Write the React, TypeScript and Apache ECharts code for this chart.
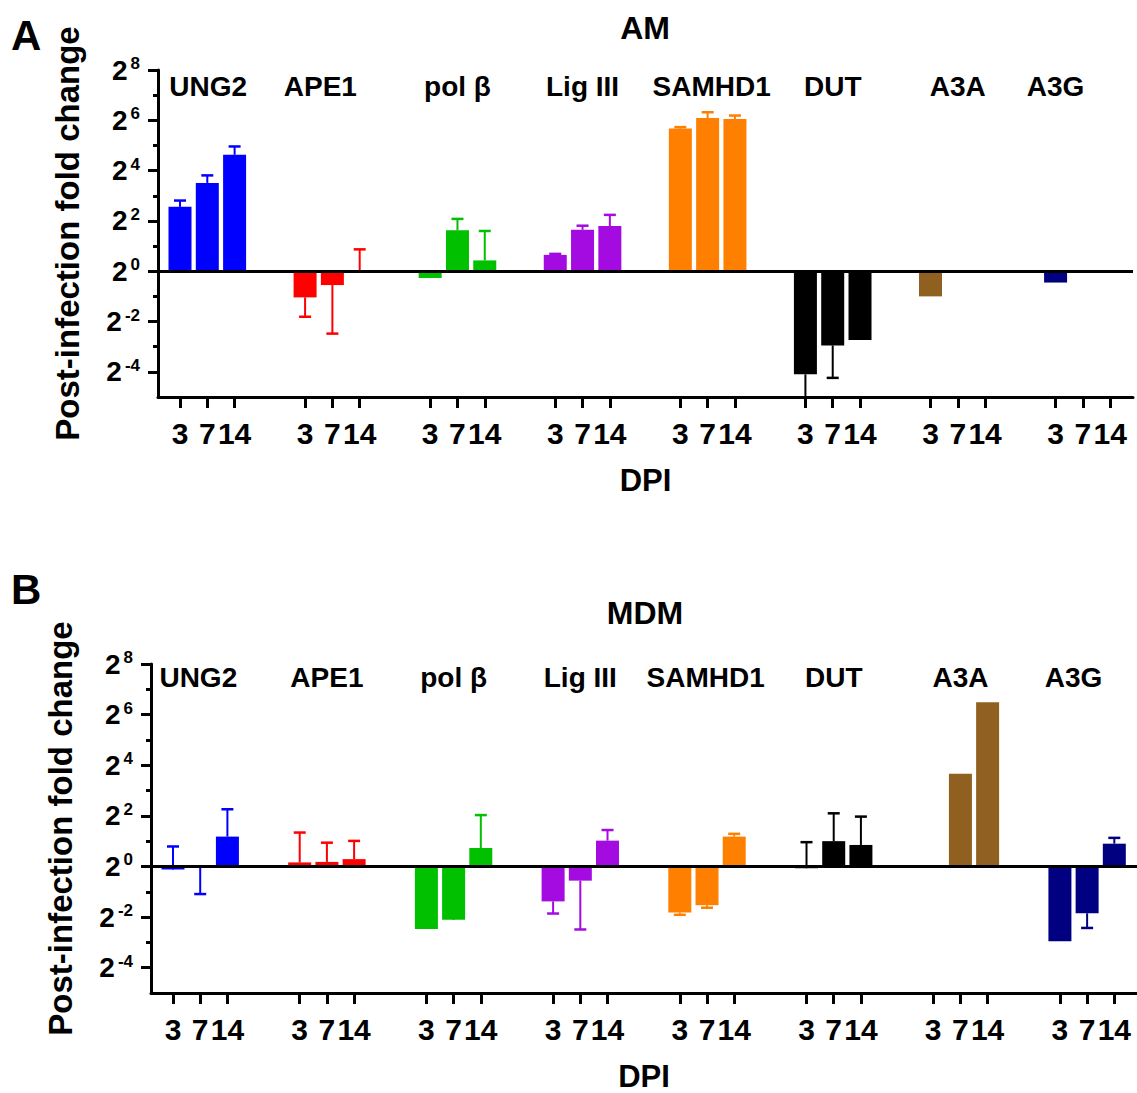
import React, { useEffect, useRef } from "react";
import * as echarts from "echarts";

const genes = ["UNG2", "APE1", "pol β", "Lig III", "SAMHD1", "DUT", "A3A", "A3G"];
const days = ["3", "7", "14"];
const geneColors = ["#0000FF", "#FF0000", "#00C000", "#A30BE0", "#FF8000", "#000000", "#8F6020", "#000080"];

// log2 fold change, per gene [3, 7, 14 DPI]
const amValues = [
  [2.56, 3.51, 4.63],
  [-1.04, -0.55, 0.02],
  [-0.27, 1.63, 0.43],
  [0.65, 1.65, 1.8],
  [5.67, 6.09, 6.05],
  [-4.1, -2.95, -2.73],
  [-1.0, 0, 0],
  [-0.45, 0, 0],
];
// error bar end (log2)
const amErrEnd = [
  [2.81, 3.81, 4.96],
  [-1.81, -2.48, 0.87],
  [null, 2.08, 1.6],
  [0.69, 1.81, 2.24],
  [5.73, 6.32, 6.19],
  [-5.6, -4.24, null],
  [null, null, null],
  [null, null, null],
];
const mdmValues = [
  [-0.12, 0.05, 1.18],
  [0.16, 0.18, 0.29],
  [-2.47, -2.11, 0.73],
  [-1.38, -0.56, 1.02],
  [-1.82, -1.53, 1.18],
  [-0.07, 1.0, 0.85],
  [0, 3.66, 6.49],
  [-2.96, -1.85, 0.9],
];
const mdmErrEnd = [
  [0.79, -1.09, 2.26],
  [1.34, 0.94, 1.01],
  [-0.03, -0.03, 2.03],
  [-1.86, -2.49, 1.44],
  [-1.91, -1.63, 1.29],
  [0.96, 2.1, 1.97],
  [null, null, null],
  [null, -2.43, 1.13],
];
const yMajorTicks = [-4, -2, 0, 2, 4, 6, 8];
const yMinorTicks = [-3, -1, 1, 3, 5, 7];

const FONT = "Liberation Sans, Arial, Helvetica, sans-serif";

export default function App() {
  const ref = useRef<HTMLDivElement>(null);
  useEffect(() => {
    if (!ref.current) return;
    const chart = echarts.init(ref.current, undefined, { renderer: "svg" });

    const panels = [
      { title: "AM", letter: "A", values: amValues, errs: amErrEnd, G: 4.582, xMin: -0.806, xMax: 34.91, labelY: 7.34, labelShift: [0.03, -0.44, 0, 0, 0.15, 0, 0, -1.0] },
      { title: "MDM", letter: "B", values: mdmValues, errs: mdmErrEnd, G: 4.658, xMin: -0.809, xMax: 35.44, labelY: 7.47, labelShift: [-0.07, 0, 0, 0, -0.05, 0, 0, -0.5] },
    ];
    const grids = [
      { left: 158, right: 4, top: 70, height: 327 },
      { left: 151, right: 0, top: 664, height: 330 },
    ];

    const xAxes: any[] = [];
    const yAxes: any[] = [];
    const series: any[] = [];

    panels.forEach((p, pi) => {
      const positions: number[] = [];
      genes.forEach((_, g) => days.forEach((__, d) => positions.push(g * p.G + d)));
      const dayOf = (v: number) => {
        for (let i = 0; i < positions.length; i++) if (Math.abs(positions[i] - v) < 1e-6) return days[i % 3];
        return "";
      };
      xAxes.push({
        gridIndex: pi,
        type: "value",
        min: p.xMin,
        max: p.xMax,
        axisLine: { onZero: false, lineStyle: { color: "#000", width: 3 } },
        axisTick: { customValues: positions, length: 11, lineStyle: { color: "#000", width: 3 } },
        axisLabel: { customValues: positions, formatter: (v: number) => dayOf(v), fontSize: 30, fontWeight: "bold", color: "#000", fontFamily: FONT, margin: 21 },
        splitLine: { show: false },
        name: "DPI",
        nameLocation: "middle",
        nameGap: 68,
        nameTextStyle: { fontSize: 31, fontWeight: "bold", color: "#000", fontFamily: FONT },
      });
      yAxes.push({
        gridIndex: pi,
        type: "value",
        position: "left",
        min: -5,
        max: 8,
        axisLine: { onZero: false, lineStyle: { color: "#000", width: 3 } },
        axisTick: { customValues: yMajorTicks, length: 10, lineStyle: { color: "#000", width: 3 } },
        axisLabel: {
          customValues: yMajorTicks,
          formatter: (v: number) => `{b|2}{s|${v}}`,
          margin: 18,
          fontSize: 28,
          fontWeight: "bold",
          fontFamily: FONT,
          color: "#000",
          rich: {
            b: { fontSize: 28, fontWeight: "bold", color: "#000", fontFamily: FONT, lineHeight: 30 },
            s: { fontSize: 17, fontWeight: "bold", color: "#000", fontFamily: FONT, verticalAlign: "top", lineHeight: 16, padding: [0, 0, 0, 3] },
          },
        },
        splitLine: { show: false },
        name: "Post-infection fold change",
        nameLocation: "middle",
        nameGap: 74,
        nameTextStyle: { fontSize: 33, fontWeight: "bold", color: "#000", fontFamily: FONT },
      });
      yAxes.push({
        gridIndex: pi,
        type: "value",
        position: "left",
        min: -5,
        max: 8,
        axisLine: { show: true, onZero: false, lineStyle: { color: "rgba(0,0,0,0)", width: 1 } },
        axisTick: { show: true, customValues: yMinorTicks, length: 5, lineStyle: { color: "#000", width: 3 } },
        axisLabel: { show: true, customValues: yMinorTicks, formatter: () => "" },
        splitLine: { show: false },
      });

      const barData: any[] = [];
      const errData: any[] = [];
      p.values.forEach((vals, g) =>
        vals.forEach((v, d) => {
          const x = g * p.G + d;
          barData.push({ value: [x, v], itemStyle: { color: geneColors[g] } });
          const e = p.errs[g][d];
          if (e !== null) errData.push([x, v, e, g]);
        })
      );
      const xi = pi;
      const yi = pi * 2;
      series.push({
        type: "bar",
        xAxisIndex: xi,
        yAxisIndex: yi,
        barWidth: 23,
        data: barData,
        markLine: {
          silent: true,
          symbol: ["none", "none"],
          label: { show: false },
          lineStyle: { color: "#000", width: 3, type: "solid" },
          data: [{ yAxis: 0 }],
        },
      });
      series.push({
        type: "custom",
        xAxisIndex: xi,
        yAxisIndex: yi,
        clip: true,
        data: errData,
        renderItem: (_params: any, api: any) => {
          const x = api.value(0);
          const p0 = api.coord([x, api.value(1)]);
          const p1 = api.coord([x, api.value(2)]);
          const c = geneColors[api.value(3)];
          return {
            type: "group",
            children: [
              { type: "line", shape: { x1: p0[0], y1: p0[1], x2: p1[0], y2: p1[1] }, style: { stroke: c, lineWidth: 2 } },
              { type: "line", shape: { x1: p1[0] - 6, y1: p1[1], x2: p1[0] + 6, y2: p1[1] }, style: { stroke: c, lineWidth: 2.5 } },
            ],
          };
        },
      });
      series.push({
        type: "custom",
        xAxisIndex: xi,
        yAxisIndex: yi,
        silent: true,
        data: genes.map((_, g) => [g * p.G + 1 + p.labelShift[g], p.labelY, g]),
        renderItem: (_params: any, api: any) => {
          const pt = api.coord([api.value(0), api.value(1)]);
          return {
            type: "text",
            x: pt[0],
            y: pt[1],
            style: {
              text: genes[api.value(2)],
              fill: "#000",
              fontSize: 28,
              fontWeight: "bold",
              fontFamily: FONT,
              align: "center",
              verticalAlign: "middle",
            },
          };
        },
      });
    });

    const titleStyle = { fontSize: 32, fontWeight: "bold", color: "#000", fontFamily: FONT };
    const letterStyle = { fontSize: 42, fontWeight: "bold", color: "#000", fontFamily: FONT };
    chart.setOption({
      animation: false,
      title: [
        { text: "AM", left: 645, top: 12, textAlign: "center", textStyle: titleStyle, padding: 0 },
        { text: "MDM", left: 645, top: 597, textAlign: "center", textStyle: titleStyle, padding: 0 },
        { text: "A", left: 11, top: 14, textStyle: letterStyle, padding: 0 },
        { text: "B", left: 11, top: 568, textStyle: letterStyle, padding: 0 },
      ],
      grid: grids,
      xAxis: xAxes,
      yAxis: yAxes,
      series,
    });
    return () => chart.dispose();
  }, []);
  return <div ref={ref} style={{ position: "absolute", left: 0, top: 0, width: 1137, height: 1093, background: "#fff" }} />;
}
